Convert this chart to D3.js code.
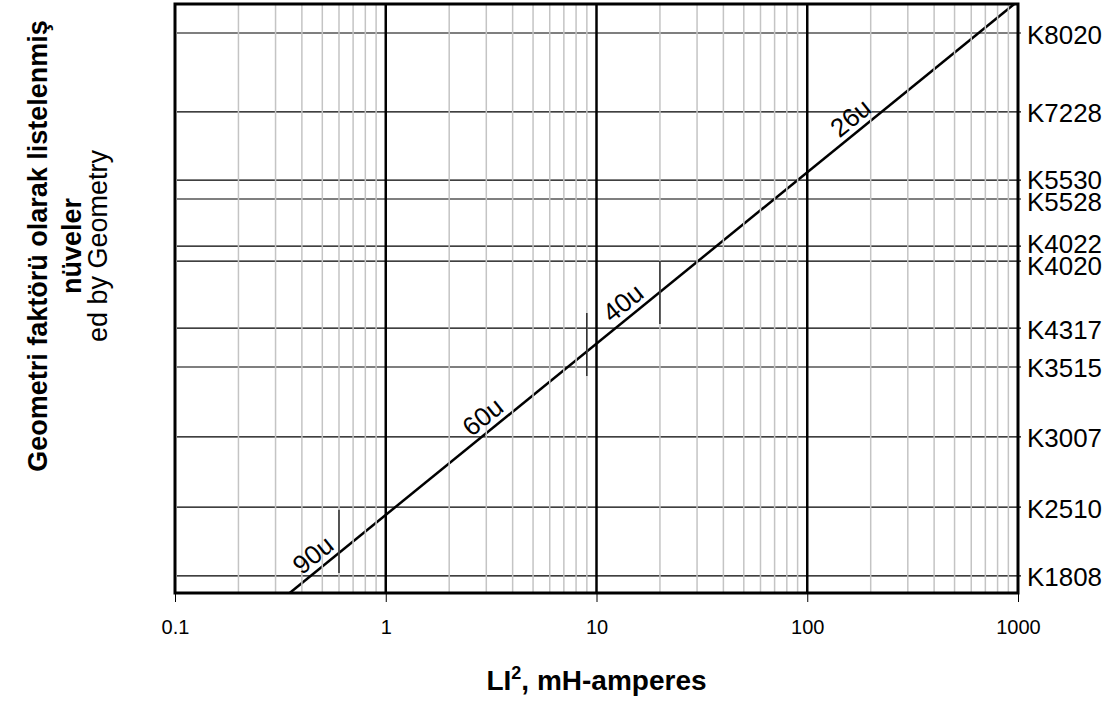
<!DOCTYPE html>
<html>
<head>
    <meta charset="utf-8"/>
    <title>Core selector chart</title>
    <style>
        body {
            margin: 0;
            background: #fff;
            font-family: Arial, 'Liberation Sans', sans-serif;
        }
        svg { display: block; }
        .minor { stroke: #c4c4c4; stroke-width: 1.5px; }
        .major { stroke: #000; stroke-width: 2.5px; }
        .core { stroke: #000; stroke-width: 1.2px; }
        .frame { fill: none; stroke: #000; stroke-width: 3px; }
    </style>
    <script src="https://cdnjs.cloudflare.com/ajax/libs/d3/7.8.5/d3.min.js"></script>
</head>
<body>
<svg id="viz" width="1117" height="702"></svg>
<script>
// LI^2 (mH-amperes) decades shown on the bottom axis
const xTicks = [0.1, 1, 10, 100, 1000];

// cores listed by geometry factor Kg (cm^5)
const coreNames = ["K8020", "K7228", "K5530", "K5528", "K4022", "K4020", "K4317", "K3515", "K3007", "K2510", "K1808"];
const coreKg = [0.650, 0.225, 0.0901, 0.0698, 0.0371, 0.0303, 0.0123, 0.0073, 0.00285, 0.00111, 0.00044];

// selector line Kg = LI^2 / 1000
const lineLI2 = [0.35, 960];
const lineKg = [0.00035, 0.96];

// permeability ranges and the boundaries between them
const permLabels = ["90u", "60u", "40u", "26u"];
const permLabelAt = [0.5, 3.2, 14.8, 178];
const boundaryLI2 = [0.6, 9, 20];
const boundaryTop = [0.00107, 0.0151, 0.0303];
const boundaryBottom = [0.000458, 0.00647, 0.0130];

const svg = d3.select("#viz");
const m = {left: 175, right: 1018, top: 4, bottom: 593};

const x = d3.scaleLog().domain([0.1, 1000]).range([m.left, m.right]);
const y = d3.scaleLog().domain([lineKg[0], lineKg[1]]).range([m.bottom, m.top]);

// minor grid values 2..9 in each decade
let minor = [];
xTicks.slice(0, -1).forEach(d => {
    for (let k = 2; k <= 9; k++) minor.push(d * k);
});

// core rows
svg.append("g").selectAll("line")
    .data(coreKg)
    .join("line")
    .attr("class", "core")
    .attr("x1", m.left + 2)
    .attr("x2", m.right + 3)
    .attr("y1", d => y(d))
    .attr("y2", d => y(d));

// selector line
const pts = lineLI2.map((v, i) => [x(v), y(lineKg[i])]);
svg.append("path")
    .attr("d", d3.line()(pts))
    .attr("stroke", "#000")
    .attr("stroke-width", 2.5)
    .attr("fill", "none");

// minor grid drawn over the line (breaks it like the original)
svg.append("g").selectAll("line")
    .data(minor)
    .join("line")
    .attr("class", "minor")
    .attr("x1", d => x(d)).attr("x2", d => x(d))
    .attr("y1", m.top).attr("y2", m.bottom);

svg.append("g").selectAll("line")
    .data(xTicks.slice(1, -1))
    .join("line")
    .attr("class", "major")
    .attr("x1", d => x(d)).attr("x2", d => x(d))
    .attr("y1", m.top).attr("y2", m.bottom);

// boundary ticks
svg.append("g").selectAll("line")
    .data(boundaryLI2)
    .join("line")
    .attr("stroke", "#000")
    .attr("stroke-width", 1.2)
    .attr("x1", d => x(d)).attr("x2", d => x(d))
    .attr("y1", (d, i) => y(boundaryTop[i]))
    .attr("y2", (d, i) => y(boundaryBottom[i]));

// permeability labels along the line
const ang = Math.atan2(pts[0][1] - pts[1][1], pts[1][0] - pts[0][0]) * 180 / Math.PI;
svg.append("g").selectAll("text")
    .data(permLabels)
    .join("text")
    .attr("transform", (d, i) => `translate(${x(permLabelAt[i])},${y(permLabelAt[i] / 1000)}) rotate(${-ang})`)
    .attr("dy", -6)
    .attr("text-anchor", "middle")
    .attr("font-size", 26)
    .text(d => d);

// frame
svg.append("rect")
    .attr("class", "frame")
    .attr("x", m.left).attr("y", m.top)
    .attr("width", m.right - m.left).attr("height", m.bottom - m.top);

// bottom axis
const xAxis = d3.axisBottom(x)
    .tickValues(xTicks)
    .tickFormat(d3.format("~g"))
    .tickSize(9)
    .tickPadding(18);
const gx = svg.append("g")
    .attr("transform", `translate(0,${m.bottom})`)
    .call(xAxis);
gx.select(".domain").remove();
gx.selectAll(".tick line").attr("stroke", "#000").attr("stroke-width", 1);
gx.selectAll(".tick text").attr("font-size", 20).attr("font-family", "Arial, 'Liberation Sans', sans-serif").attr("fill", "#000");

// core names on the right, nudged apart where rows sit close together
let labelY = coreKg.map(d => y(d));
for (let pass = 0; pass < 10; pass++) {
    for (let i = 1; i < labelY.length; i++) {
        const gap = labelY[i] - labelY[i - 1];
        if (gap < 22) {
            const push = (22 - gap) / 2;
            labelY[i - 1] -= push;
            labelY[i] += push;
        }
    }
}
svg.append("g").selectAll("text")
    .data(coreNames)
    .join("text")
    .attr("x", m.right + 9)
    .attr("y", (d, i) => labelY[i])
    .attr("dy", "0.42em")
    .attr("font-size", 25)
    .attr("textLength", 75)
    .attr("lengthAdjust", "spacingAndGlyphs")
    .text(d => d);

// axis titles
const xt = svg.append("text")
    .attr("x", (m.left + m.right) / 2)
    .attr("y", 690)
    .attr("text-anchor", "middle")
    .attr("font-size", 28)
    .attr("font-weight", "bold");
xt.append("tspan").text("LI");
xt.append("tspan").attr("font-size", 18).attr("dy", -11).text("2");
xt.append("tspan").attr("dy", 11).text(", mH-amperes");

const yt = svg.append("g").attr("transform", "translate(0,246) rotate(-90)");
yt.append("text").attr("y", 47).attr("text-anchor", "middle")
    .attr("font-size", 27).attr("font-weight", "bold")
    .text("Geometri faktörü olarak listelenmiş");
yt.append("text").attr("y", 81).attr("text-anchor", "middle")
    .attr("font-size", 27).attr("font-weight", "bold")
    .text("nüveler");
yt.append("text").attr("y", 107).attr("text-anchor", "middle")
    .attr("font-size", 27)
    .text("ed by Geometry");
</script>
</body>
</html>
